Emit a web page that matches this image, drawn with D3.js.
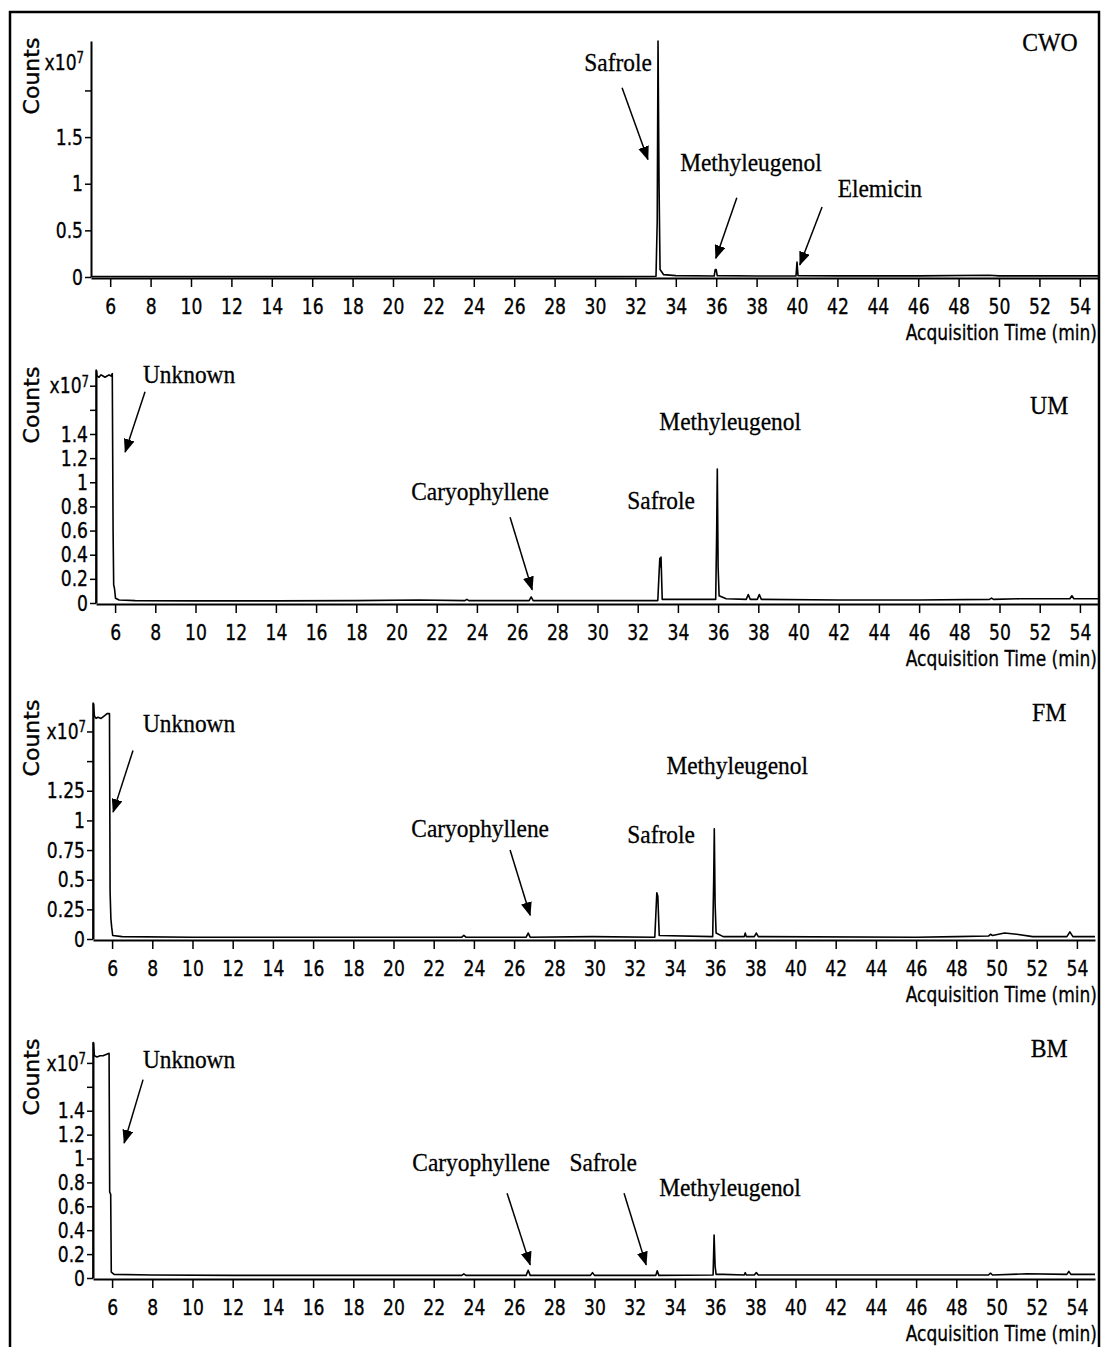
<!DOCTYPE html>
<html>
<head>
<meta charset="utf-8">
<script src="https://cdn.jsdelivr.net/npm/d3@7"></script>
<style>
body { margin: 0; background: #fff; }
svg { display: block; }
.sans { font-family: "DejaVu Sans", Verdana, sans-serif; fill: #000; stroke: #000; stroke-width: 0.35px; }
.serif { font-family: "Liberation Serif", "Times New Roman", serif; fill: #000; stroke: #000; stroke-width: 0.3px; }
</style>
</head>
<body>
<svg id="svg"></svg>
<script>
// ---- data (time in min, counts in 1e7) ----
const sampleNames = ["CWO", "UM", "FM", "BM"];
const xTickValues = [6, 8, 10, 12, 14, 16, 18, 20, 22, 24, 26, 28, 30, 32, 34, 36, 38, 40, 42, 44, 46, 48, 50, 52, 54];
const timeDomain = [5.05, 54.9];

const cwoTicks = [0, 0.5, 1, 1.5, 2];
const umTicks = [0, 0.2, 0.4, 0.6, 0.8, 1, 1.2, 1.4, 1.6, 1.8];
const fmTicks = [0, 0.25, 0.5, 0.75, 1, 1.25, 1.5, 1.75];
const bmTicks = [0, 0.2, 0.4, 0.6, 0.8, 1, 1.2, 1.4, 1.6, 1.8];

const cwoTickLabels = ["0", "0.5", "1", "1.5", ""];
const umTickLabels = ["0", "0.2", "0.4", "0.6", "0.8", "1", "1.2", "1.4", "", ""];
const fmTickLabels = ["0", "0.25", "0.5", "0.75", "1", "1.25", "", ""];
const bmTickLabels = ["0", "0.2", "0.4", "0.6", "0.8", "1", "1.2", "1.4", "", ""];

const cwoTrace = [[5.05,0.005],[8,0.005],[12,0.006],[16,0.005],[20,0.006],[24,0.005],[28,0.006],[31,0.006],
  [33.02,0.008],[33.08,0.6],[33.12,2.53],[33.17,1.0],[33.22,0.08],[33.4,0.025],[34,0.015],[35.9,0.01],
  [35.95,0.08],[36.0,0.08],[36.05,0.015],[38,0.01],[39.95,0.01],[40.0,0.16],[40.05,0.015],[42,0.012],
  [44,0.012],[46,0.012],[49.5,0.018],[50,0.012],[54.9,0.012]];

const umTrace = [[5.05,0],[5.06,1.93],[5.1,1.88],[5.2,1.87],[5.3,1.89],[5.4,1.88],[5.5,1.87],[5.6,1.88],
  [5.7,1.89],[5.8,1.88],[5.86,1.9],[5.9,0.6],[5.93,0.15],[5.97,0.12],[6.02,0.04],[6.2,0.025],[7,0.02],
  [10,0.018],[14,0.018],[18,0.02],[21.1,0.025],[23.4,0.02],[23.5,0.03],[23.6,0.02],[26.6,0.02],[26.7,0.05],
  [26.8,0.02],[30,0.02],[33.0,0.02],[33.05,0.2],[33.1,0.37],[33.13,0.3],[33.16,0.38],[33.22,0.03],
  [35.88,0.03],[35.93,0.6],[35.96,1.11],[36.0,0.3],[36.05,0.06],[36.4,0.035],[37.4,0.03],[37.5,0.07],
  [37.6,0.03],[37.95,0.03],[38.05,0.07],[38.15,0.03],[42,0.025],[46,0.025],[49.5,0.03],[49.6,0.04],
  [49.7,0.03],[51,0.035],[53.5,0.035],[53.6,0.06],[53.7,0.035],[54.9,0.035]];

const fmTrace = [[5.05,0],[5.06,1.99],[5.12,1.88],[5.2,1.86],[5.3,1.87],[5.45,1.86],[5.6,1.88],[5.75,1.9],
  [5.87,1.9],[5.9,0.4],[5.94,0.17],[5.98,0.1],[6.03,0.03],[6.5,0.02],[10,0.015],[18,0.015],[23.4,0.015],
  [23.5,0.03],[23.6,0.015],[26.6,0.015],[26.7,0.05],[26.8,0.015],[29.9,0.02],[33.0,0.015],[33.05,0.2],
  [33.1,0.39],[33.15,0.36],[33.22,0.03],[35.88,0.02],[35.93,0.5],[35.96,0.93],[36.0,0.3],[36.05,0.05],
  [36.4,0.02],[37.45,0.02],[37.5,0.05],[37.55,0.02],[37.95,0.02],[38.05,0.05],[38.15,0.02],[46,0.015],
  [48,0.02],[49.6,0.025],[49.7,0.04],[49.8,0.03],[50.4,0.05],[51,0.04],[51.8,0.02],[53.5,0.02],
  [53.65,0.06],[53.8,0.02],[54.9,0.02]];

const bmTrace = [[5.05,0],[5.06,1.97],[5.12,1.86],[5.25,1.85],[5.4,1.86],[5.55,1.86],[5.7,1.87],[5.85,1.88],
  [5.88,0.72],[5.93,0.7],[5.96,0.05],[6.1,0.03],[8,0.025],[12,0.022],[18,0.022],[23.4,0.022],[23.5,0.035],
  [23.6,0.022],[26.6,0.022],[26.7,0.065],[26.8,0.022],[29.8,0.022],[29.9,0.045],[30,0.022],[33.05,0.022],
  [33.12,0.06],[33.2,0.022],[35.9,0.025],[35.95,0.36],[36.0,0.1],[36.05,0.03],[36.4,0.03],[37.45,0.025],
  [37.5,0.045],[37.55,0.025],[37.95,0.025],[38.05,0.045],[38.15,0.025],[46,0.025],[49.6,0.025],[49.7,0.04],
  [49.8,0.025],[51.5,0.035],[53.5,0.03],[53.6,0.055],[53.7,0.03],[54.9,0.03]];

// peak names, anchored in data space (time, counts)
const cwoLabels = [["Safrole", 31.14, 2.31], ["Methyleugenol", 37.72, 1.23], ["Elemicin", 44.1, 0.955]];
const umLabels = [["Unknown", 9.68, 1.90], ["Methyleugenol", 36.6, 1.51], ["Caryophyllene", 24.16, 0.93], ["Safrole", 33.16, 0.85]];
const fmLabels = [["Unknown", 9.83, 1.82], ["Methyleugenol", 37.1, 1.47], ["Caryophyllene", 24.31, 0.94], ["Safrole", 33.31, 0.89]];
const bmLabels = [["Unknown", 9.83, 1.83], ["Caryophyllene", 24.36, 0.97], ["Safrole", 30.43, 0.97], ["Methyleugenol", 36.74, 0.76]];

// arrows: [t0, v0, t1, v1] tail -> head
const cwoArrows = [[31.34, 2.03, 32.62, 1.26], [37.02, 0.85, 35.98, 0.20], [41.24, 0.75, 40.14, 0.13]];
const umArrows = [[7.49, 1.75, 6.50, 1.25], [25.65, 0.71, 26.75, 0.11]];
const fmArrows = [[7.04, 1.59, 6.05, 1.07], [25.8, 0.75, 26.8, 0.20]];
const bmArrows = [[7.54, 1.66, 6.6, 1.13], [25.65, 0.71, 26.8, 0.11], [31.47, 0.71, 32.57, 0.11]];

// ---- layout ----
const width = 1102;
const height = 1347;

const panels = [
  { left: 91, right: 1098, top: 41, zero: 277, yMax: 2.53, expAt: 2.3, nameAt: [52.52, 2.52],
    trace: cwoTrace, ticks: cwoTicks, tickLabels: cwoTickLabels, labels: cwoLabels, arrows: cwoArrows },
  { left: 96, right: 1098, top: 370, zero: 603, yMax: 1.93, expAt: 1.8, nameAt: [52.47, 1.64],
    trace: umTrace, ticks: umTicks, tickLabels: umTickLabels, labels: umLabels, arrows: umArrows },
  { left: 93, right: 1095, top: 703, zero: 939, yMax: 1.99, expAt: 1.75, nameAt: [52.62, 1.91],
    trace: fmTrace, ticks: fmTicks, tickLabels: fmTickLabels, labels: fmLabels, arrows: fmArrows },
  { left: 93, right: 1095, top: 1042, zero: 1278, yMax: 1.975, expAt: 1.8, nameAt: [52.62, 1.92],
    trace: bmTrace, ticks: bmTicks, tickLabels: bmTickLabels, labels: bmLabels, arrows: bmArrows }
];

const svg = d3.select("#svg").attr("width", width).attr("height", height);

svg.append("rect").attr("width", width).attr("height", height).attr("fill", "#fff");

// arrow head
svg.append("defs").append("marker")
    .attr("id", "head")
    .attr("viewBox", "0 0 14 11")
    .attr("preserveAspectRatio", "none")
    .attr("refX", 13).attr("refY", 5.5)
    .attr("markerUnits", "userSpaceOnUse")
    .attr("markerWidth", 14).attr("markerHeight", 11)
    .attr("orient", "auto")
  .append("path")
    .attr("d", "M0,0L14,5.5L0,11z")
    .attr("fill", "#000");

// outer frame
svg.append("rect")
    .attr("x", 10).attr("y", 12)
    .attr("width", 1089).attr("height", 1400)
    .attr("fill", "none").attr("stroke", "#000").attr("stroke-width", 2.5);

// squeezed text helper (the figure's lettering is horizontally compressed)
function sText(g, x, y, str, cls, size, sx, anchor) {
    return g.append("text")
        .attr("class", cls)
        .attr("transform", `translate(${x},${y}) scale(${sx},1)`)
        .attr("text-anchor", anchor)
        .attr("dy", "0.35em")
        .style("font-size", size + "px")
        .text(str);
}

panels.forEach((p, i) => {
    let x = d3.scaleLinear().domain(timeDomain).range([p.left, p.right]);
    let y = d3.scaleLinear().domain([0, p.yMax]).range([p.zero, p.top]);
    let g = svg.append("g");

    // chromatogram trace
    g.append("path")
        .datum(p.trace)
        .attr("fill", "none")
        .attr("stroke", "#000")
        .attr("stroke-width", 1.6)
        .attr("stroke-linejoin", "round")
        .attr("d", d3.line().x(d => x(d[0])).y(d => y(d[1])));

    // x axis
    let xa = g.append("g")
        .attr("transform", `translate(0,${p.zero + 1})`)
        .call(d3.axisBottom(x).tickValues(xTickValues).tickSize(9).tickSizeOuter(0).tickPadding(11));
    xa.select(".domain").attr("stroke-width", 2);
    xa.selectAll(".tick line").attr("stroke-width", 1.5);
    xa.selectAll("text")
        .attr("class", "sans")
        .style("font-size", "22px")
        .attr("transform", "scale(0.78,1)");

    // y axis
    let ya = g.append("g")
        .attr("transform", `translate(${p.left},0)`)
        .call(d3.axisLeft(y).tickValues(p.ticks).tickSize(6).tickSizeOuter(0).tickPadding(2)
            .tickFormat((d, j) => p.tickLabels[j]));
    ya.select(".domain").attr("stroke-width", 2);
    ya.selectAll(".tick line").attr("stroke-width", 1.5);
    ya.selectAll("text")
        .attr("class", "sans")
        .attr("x", -8 / 0.78)
        .style("font-size", "22px")
        .attr("transform", "scale(0.78,1)");

    // x10^7 unit
    let unit = g.append("text")
        .attr("class", "sans")
        .attr("transform", `translate(${p.left - 7},${y(p.expAt)}) scale(0.78,1)`)
        .attr("text-anchor", "end")
        .attr("dy", "0.35em")
        .style("font-size", "22px");
    unit.append("tspan").text("x10");
    unit.append("tspan").attr("dy", "-0.45em").style("font-size", "15px").text("7");

    // Counts
    g.append("text")
        .attr("class", "sans")
        .attr("transform", `translate(31,${p.top + 35}) rotate(-90)`)
        .attr("text-anchor", "middle")
        .attr("dy", "0.35em")
        .style("font-size", "22px")
        .text("Counts");

    // axis title
    sText(g, 1097, p.zero + 55, "Acquisition Time (min)", "sans", 22, 0.775, "end");

    // sample name
    sText(g, x(p.nameAt[0]), y(p.nameAt[1]), sampleNames[i], "serif", 25, 0.95, "middle");

    // peak labels
    p.labels.forEach(l => sText(g, x(l[1]), y(l[2]), l[0], "serif", 26, 0.9, "middle"));

    // arrows
    g.selectAll(".arrow")
        .data(p.arrows)
        .enter()
        .append("line")
            .attr("x1", d => x(d[0])).attr("y1", d => y(d[1]))
            .attr("x2", d => x(d[2])).attr("y2", d => y(d[3]))
            .attr("stroke", "#000")
            .attr("stroke-width", 1.5)
            .attr("marker-end", "url(#head)");
});
</script>
</body>
</html>
